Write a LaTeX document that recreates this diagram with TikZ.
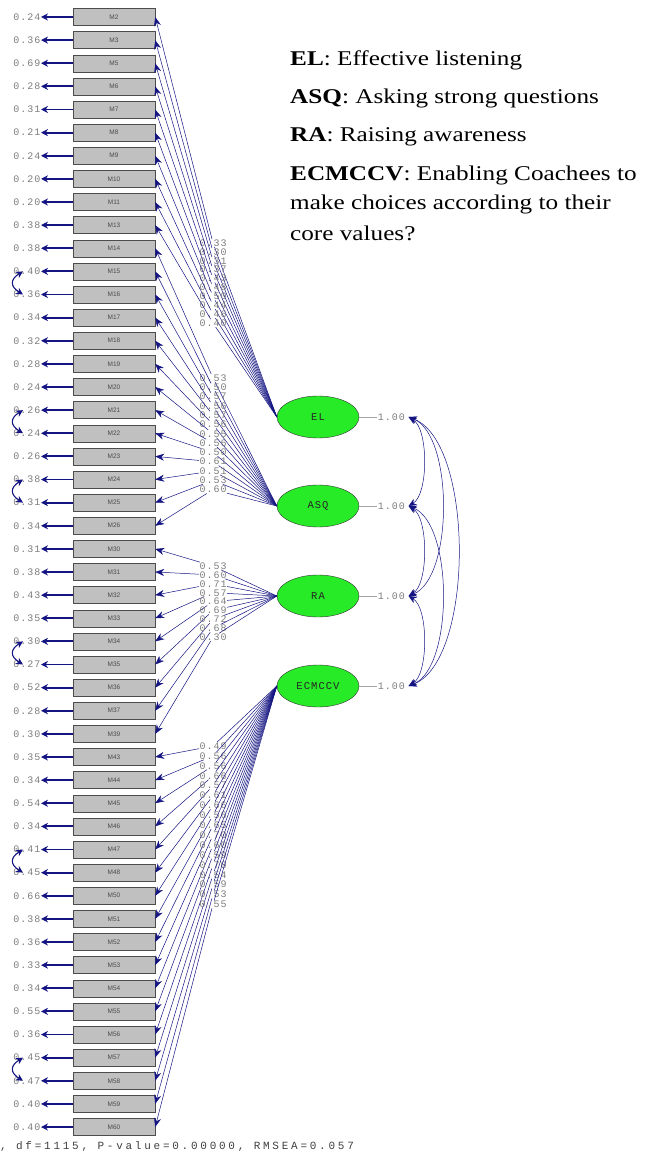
\documentclass[tikz,border=0pt]{standalone}
\usepackage{fontspec}
\usetikzlibrary{shapes.geometric,arrows.meta}
\newfontfamily\lisfont[LetterSpace=10]{Liberation Mono}
\newfontfamily\fitfont[LetterSpace=25]{Liberation Mono}
\newfontfamily\boxfont{Liberation Sans}
\newfontfamily\legfont[FakeStretch=1.2]{Liberation Serif}
\definecolor{navy}{RGB}{20,20,130}
\definecolor{lisgray}{RGB}{125,125,125}
\definecolor{boxgray}{RGB}{192,192,192}
\definecolor{latgreen}{RGB}{40,235,40}
\begin{document}
\begin{tikzpicture}[x=1pt,y=-1pt,
  obs/.style={draw=black!70, fill=boxgray, minimum width=82pt, minimum height=17pt, inner sep=0pt, font=\boxfont\fontsize{6.5}{6.5}\selectfont, text=black!70},
  errlab/.style={anchor=east, inner sep=0.5pt, font=\lisfont\fontsize{10}{10}\selectfont, text=lisgray},
  loadlab/.style={anchor=west, inner sep=0.3pt, font=\lisfont\fontsize{10}{10}\selectfont, text=lisgray},
  errarr/.style={draw=navy, line width=1.8pt, -{Stealth[length=7pt,width=7pt]}},
  loadline/.style={draw=navy, line width=0.5pt},
  loadarr/.style={draw=navy, line width=0.5pt, -{Stealth[length=9pt,width=7pt]}},
  latent/.style={ellipse, draw=black!80, fill=latgreen, minimum width=82pt, minimum height=42pt, inner sep=0pt, font=\lisfont\fontsize{10.5}{10.5}\selectfont, text=black!85},
  varlab/.style={anchor=west, inner sep=0.5pt, font=\lisfont\fontsize{10}{10}\selectfont, text=lisgray},
  varline/.style={draw=lisgray!70, line width=0.4pt},
  cov/.style={draw=navy, line width=0.5pt, {Stealth[length=8pt,width=7pt]}-{Stealth[length=8pt,width=7pt]}},
  ecov/.style={draw=navy, line width=1.1pt, {Stealth[length=7pt,width=7pt]}-{Stealth[length=7pt,width=7pt]}},
  leg/.style={anchor=west, inner sep=0pt, font=\legfont\fontsize{21}{24}\selectfont, text=black}
]
\useasboundingbox (0,0) rectangle (646,1158);

% observed variables with error variances
\foreach \nm/\ev [count=\i] in {M2/0.24, M3/0.36, M5/0.69, M6/0.28, M7/0.31, M8/0.21, M9/0.24, M10/0.20, M11/0.20, M13/0.38,
  M14/0.38, M15/0.40, M16/0.36, M17/0.34, M18/0.32, M19/0.28, M20/0.24, M21/0.26, M22/0.24, M23/0.26, M24/0.38, M25/0.31, M26/0.34,
  M30/0.31, M31/0.38, M32/0.43, M33/0.35, M34/0.30, M35/0.27, M36/0.52, M37/0.28, M39/0.30,
  M43/0.35, M44/0.34, M45/0.54, M46/0.34, M47/0.41, M48/0.45, M50/0.66, M51/0.38, M52/0.36, M53/0.33, M54/0.34, M55/0.55,
  M56/0.36, M57/0.45, M58/0.47, M59/0.40, M60/0.40} {
  \node[obs] (b\i) at (114,{17+23.125*(\i-1)}) {\nm};
  \node[errlab] (e\i) at (41,{17+23.125*(\i-1)}) {\ev};
  \draw[errarr] (b\i.west) -- (e\i.east);
  \coordinate (c\i) at (23,{17+23.125*(\i-1)});
}

% error covariances
\foreach \a/\b in {12/13, 18/19, 21/22, 28/29, 37/38, 46/47} {
  \draw[ecov] (c\a) .. controls +(-13,8) and +(-13,-8) .. (c\b);
}

% latent variables
\node[latent] (EL) at (318,417) {EL};
\node[latent] (ASQ) at (318,506) {ASQ};
\node[latent] (RA) at (318,596) {RA};
\node[latent] (EC) at (318,686) {ECMCCV};

\foreach \L in {EL,ASQ,RA,EC} {
  \node[varlab] (v\L) at ([xshift=18pt]\L.east) {1.00};
  \draw[varline] (\L.east) -- (v\L.west);
  \coordinate (k\L) at ([xshift=3pt]v\L.east);
}

% loadings
\foreach \v [count=\k from 0] in {0.33,0.30,0.31,0.37,0.43,0.48,0.50,0.44,0.46,0.40} {
  \pgfmathtruncatemacro\r{\k+1}
  \node[loadlab] (L\r) at (199,{243+8.9*\k}) {\v};
  \draw[loadline] (EL.west) -- (L\r);
  \draw[loadarr] (L\r) -- (b\r.east);
}
\foreach \v [count=\k from 0] in {0.53,0.50,0.57,0.56,0.57,0.56,0.55,0.56,0.50,0.61,0.51,0.53,0.60} {
  \pgfmathtruncatemacro\r{\k+11}
  \node[loadlab] (L\r) at (199,{378+9.3*\k}) {\v};
  \draw[loadline] (ASQ.west) -- (L\r);
  \draw[loadarr] (L\r) -- (b\r.east);
}
\foreach \v [count=\k from 0] in {0.53,0.60,0.71,0.57,0.64,0.69,0.72,0.68,0.30} {
  \pgfmathtruncatemacro\r{\k+24}
  \node[loadlab] (L\r) at (199,{566+8.9*\k}) {\v};
  \draw[loadline] (RA.west) -- (L\r);
  \draw[loadarr] (L\r) -- (b\r.east);
}
\foreach \v [count=\k from 0] in {0.49,0.56,0.56,0.66,0.57,0.61,0.66,0.56,0.65,0.70,0.60,0.59,0.70,0.54,0.59,0.53,0.55} {
  \pgfmathtruncatemacro\r{\k+33}
  \node[loadlab] (L\r) at (199,{746+9.9*\k}) {\v};
  \draw[loadline] (EC.west) -- (L\r);
  \draw[loadarr] (L\r) -- (b\r.east);
}

% factor covariances
\draw[cov] (kEL) .. controls +(20,12) and +(20,-12) .. (kASQ);
\draw[cov] (kEL) .. controls +(45,18) and +(45,-18) .. (kRA);
\draw[cov] (kEL) .. controls +(66,25) and +(66,-25) .. (kEC);
\draw[cov] (kASQ) .. controls +(20,12) and +(20,-12) .. (kRA);
\draw[cov] (kASQ) .. controls +(45,18) and +(45,-18) .. (kEC);
\draw[cov] (kRA) .. controls +(20,12) and +(20,-12) .. (kEC);

% fit line
\node[anchor=west, inner sep=0pt, font=\fitfont\fontsize{11}{11}\selectfont, text=black!75] (fit) at (0,1146) {, df=1115, P-value=0.00000, RMSEA=0.057};

% legend
\node[leg] (g1) at (290,60) {\textbf{EL}: Effective listening};
\node[leg] (g2) at (290,98) {\textbf{ASQ}: Asking strong questions};
\node[leg] (g3) at (290,137) {\textbf{RA}: Raising awareness};
\node[leg] (g4) at (290,175) {\textbf{ECMCCV}: Enabling Coachees to};
\node[leg] (g5) at (290,204) {make choices according to their};
\node[leg] (g6) at (290,233) {core values?};
\end{tikzpicture}
\end{document}
